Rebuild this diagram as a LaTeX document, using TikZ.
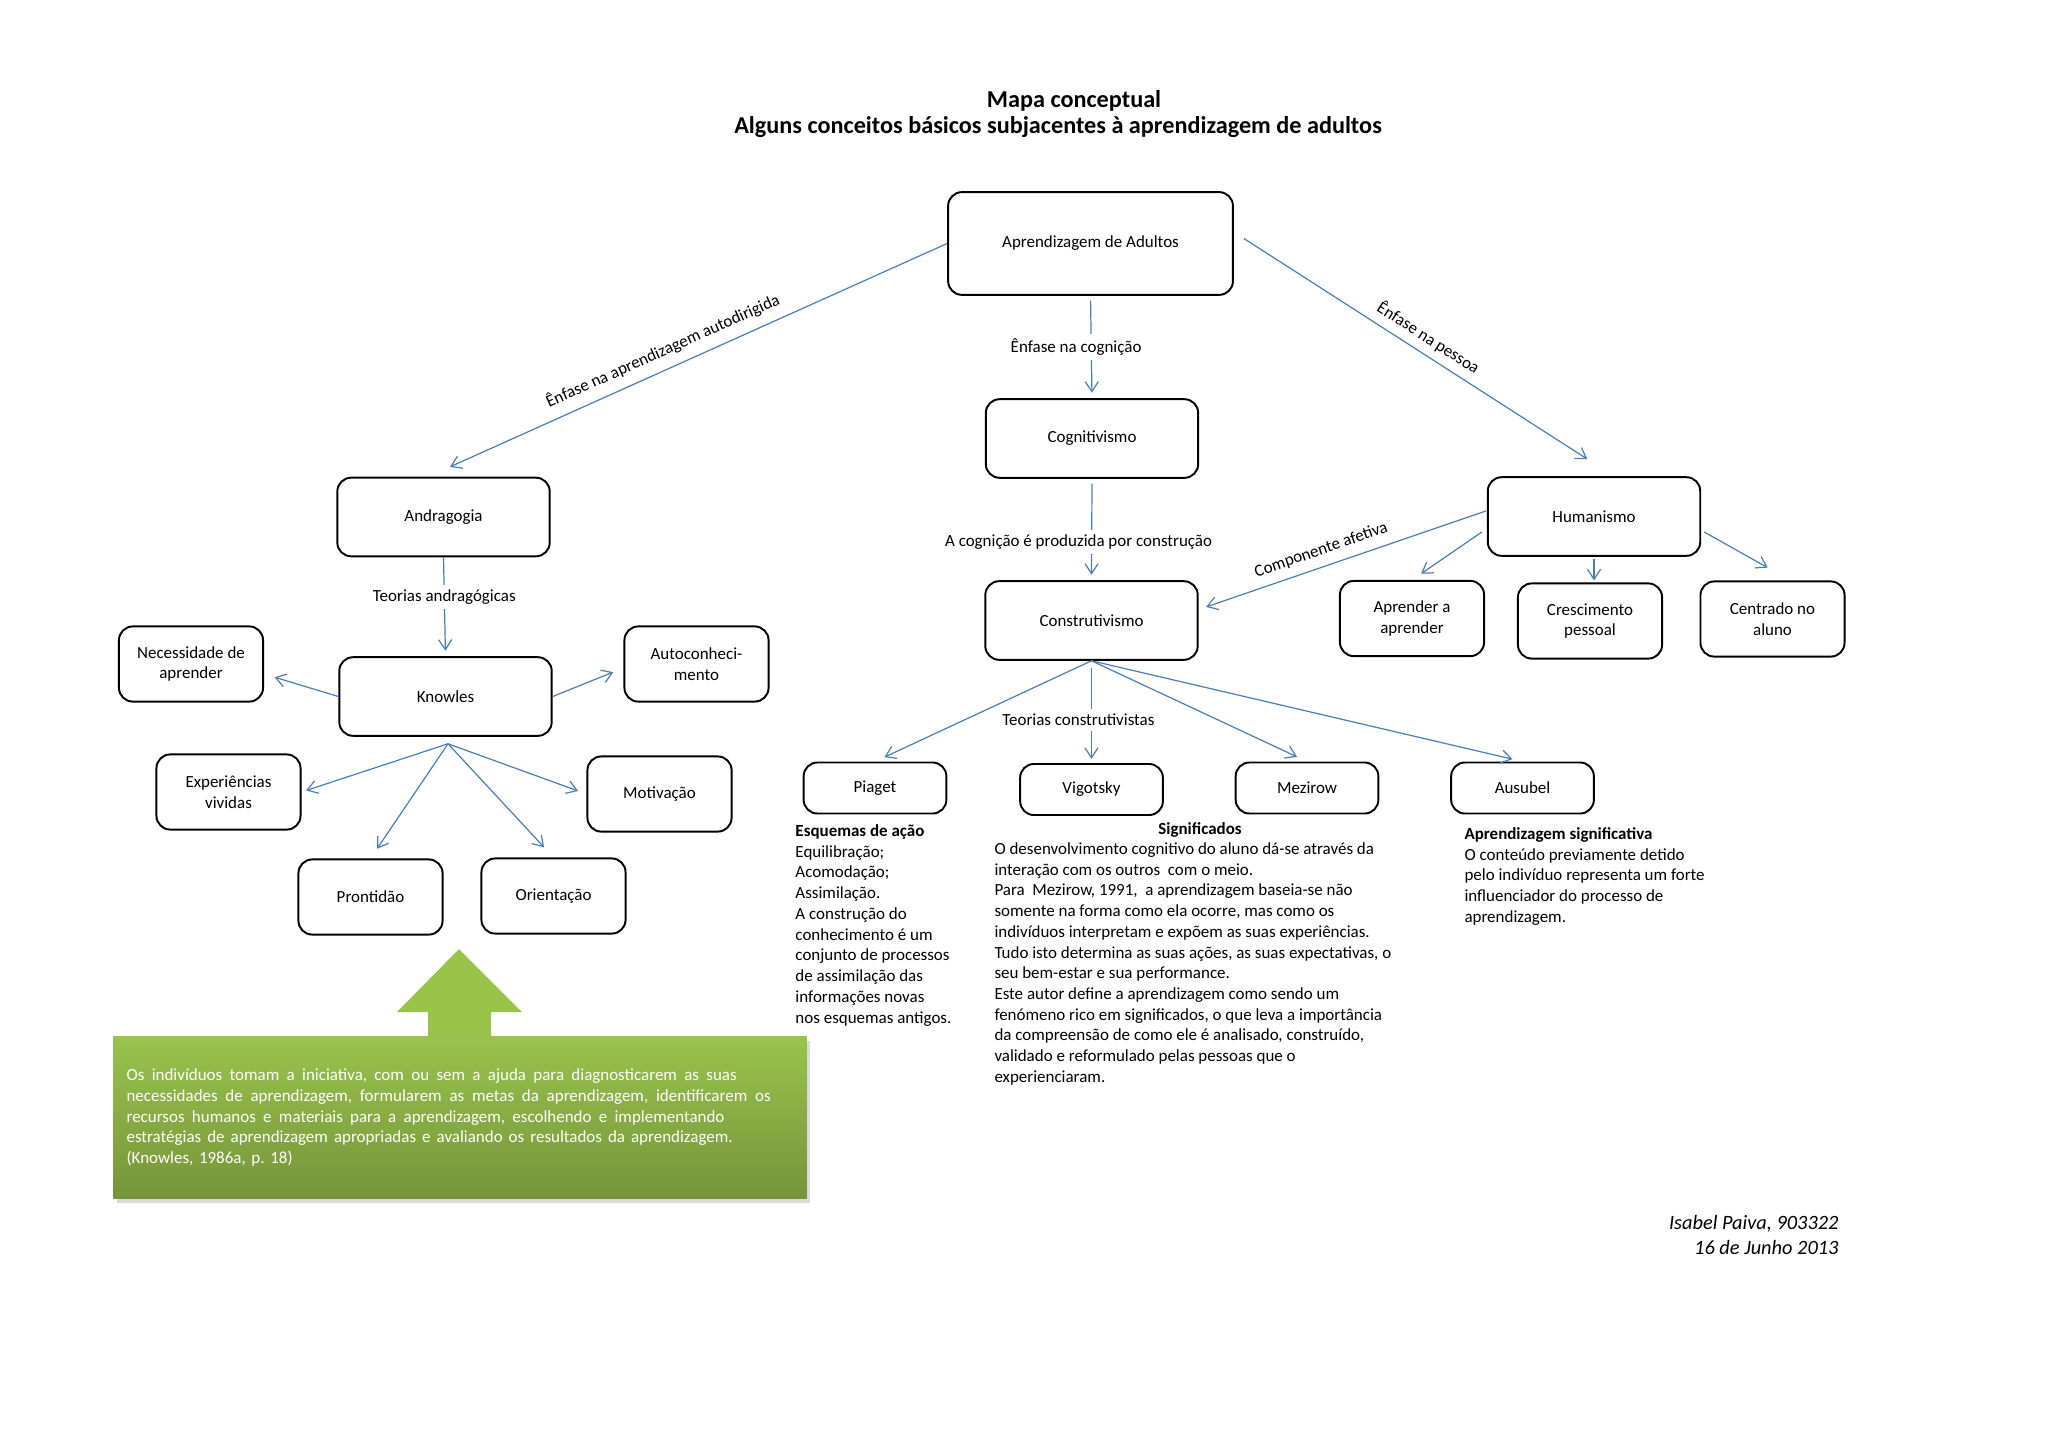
\documentclass[tikz,border=0pt]{standalone}
\usepackage{fontspec}
\setmainfont{Carlito}
\usetikzlibrary{arrows.meta,calc,shadows}
\frenchspacing

\definecolor{azul}{RGB}{74,126,187}
\definecolor{verdeclaro}{RGB}{153,195,78}
\definecolor{verdeescuro}{RGB}{117,149,57}
\definecolor{verdeseta}{RGB}{152,196,74}

\newcommand{\letra}{\fontsize{7pt}{8.56pt}\selectfont}
\newcommand{\linha}[2]{\leavevmode{\spaceskip=0.22em plus 1fil\hbox to #1{#2}}}

\tikzset{
  caixa/.style={draw, line width=0.8pt, rounded corners=2mm, align=center,
    minimum width=30.8mm, minimum height=11.4mm, inner sep=1pt},
  caixapeq/.style={caixa, minimum width=20.9mm, minimum height=10.9mm},
  caixabaixa/.style={caixa, minimum width=20.7mm, minimum height=7.4mm},
  liga/.style={draw=azul, line width=0.5pt, -{Straight Barb[length=1.45mm,width=1.9mm]},
    shorten >=0.8mm, shorten <=0.7mm},
  rotulo/.style={inner sep=2pt},
  texto/.style={align=left, inner sep=0pt, anchor=north west},
  caixaverde/.style={anchor=north west, minimum width=100.5mm, minimum height=23.5mm,
    text width=96.7mm, inner xsep=1.9mm, inner ysep=0pt, align=left, text=white,
    top color=verdeclaro, bottom color=verdeescuro,
    drop shadow={shadow xshift=0.5mm, shadow yshift=-0.6mm, opacity=0.3}}
}

\begin{document}
\begin{tikzpicture}[x=0.14502mm, y=-0.14502mm, every node/.style={font=\letra}]
  \useasboundingbox (0,0) rectangle (2048,1448);

  % titulo
  \node (titulo) [font=\bfseries\fontsize{10pt}{12pt}\selectfont] at (1074,101) {Mapa conceptual};
  \node (subtitulo) [font=\bfseries\fontsize{10pt}{12pt}\selectfont] at (1058,127)
    {Alguns conceitos básicos subjacentes à aprendizagem de adultos};

  % caixas
  \node (adultos) [caixa, minimum width=41.3mm, minimum height=14.9mm] at (1090.5,243.5) {Aprendizagem de Adultos};
  \node (cogn) [caixa] at (1092,438.5) {Cognitivismo};
  \node (constr) [caixa] at (1091.5,620.5) {Construtivismo};
  \node (andrag) [caixa] at (443.5,517) {Andragogia};
  \node (knowles) [caixa] at (445.5,696.5) {Knowles};
  \node (human) [caixa] at (1594,516.5) {Humanismo};
  \node (necess) [caixapeq] at (191,664) {Necessidade de\\aprender};
  \node (auto) [caixapeq] at (696.5,664) {Autoconheci-\\mento};
  \node (exper) [caixapeq] at (228.5,792) {Experiências\\vividas};
  \node (motiv) [caixapeq] at (659.5,794) {Motivação};
  \node (pront) [caixapeq] at (370.5,897) {Prontidão};
  \node (orient) [caixapeq] at (553.5,896) {Orientação};
  \node (aprend) [caixapeq] at (1412,618.5) {Aprender a\\aprender};
  \node (cresc) [caixapeq] at (1590,621) {Crescimento\\pessoal};
  \node (centr) [caixapeq] at (1772.5,619) {Centrado no\\aluno};
  \node (piaget) [caixabaixa] at (875,788) {Piaget};
  \node (vigot) [caixabaixa] at (1091.5,789.5) {Vigotsky};
  \node (mezir) [caixabaixa] at (1307,788) {Mezirow};
  \node (ausub) [caixabaixa] at (1522.5,788) {Ausubel};

  % ligacoes do topo
  \draw[liga] (adultos.south) -- node[rotulo, fill=white, xshift=-2.2mm] {Ênfase na cognição} (cogn.north);
  \draw[liga] (cogn.south) -- node[rotulo, fill=white, pos=0.625, xshift=-1.9mm] {A cognição é produzida por construção} (constr.north);
  \draw[liga, shorten <=0pt, shorten >=3.5mm] (adultos.west) --
    node[rotulo, sloped, above=2pt, pos=0.533] {Ênfase na aprendizagem autodirigida} ($(andrag.north)+(-15.5,0)$);
  \draw[liga, shorten <=0pt, shorten >=4.6mm] ($(adultos.east)+(10,-5)$) --
    node[rotulo, sloped, above=1pt, pos=0.475] {Ênfase na pessoa} ($(human.north)+(20,0)$);

  % andragogia
  \draw[liga, shorten <=0pt] (andrag.south) -- node[rotulo, fill=white, pos=0.4] {Teorias andragógicas} (knowles.north);
  \draw[liga, shorten <=0pt, shorten >=1.6mm] (knowles.west) -- ($(necess.east)+(0,10)$);
  \draw[liga, shorten <=0pt, shorten >=1.6mm] (knowles.east) -- ($(auto.west)+(0,4)$);
  \coordinate (kfan) at ($(knowles.south)+(2.5,7)$);
  \draw[liga, shorten <=0pt, shorten >=0.7mm] (kfan) -- (exper.east);
  \draw[liga, shorten <=0pt, shorten >=1.7mm] (kfan) -- (pront.north);
  \draw[liga, shorten <=0pt, shorten >=2mm] (kfan) -- (orient.north);
  \draw[liga, shorten <=0pt, shorten >=1.3mm] (kfan) -- (motiv.west);

  % construtivismo
  \draw[liga, shorten <=0pt, shorten >=1.5mm] (constr.south) -- (piaget.north);
  \draw[liga, shorten <=1mm, shorten >=0.6mm] (constr.south) -- node[rotulo, fill=white, pos=0.58, xshift=-1.9mm] {Teorias construtivistas} (vigot.north);
  \draw[liga, shorten <=0pt, shorten >=1.6mm] (constr.south) -- (mezir.north);
  \draw[liga, shorten <=0pt, shorten >=1.5mm] (constr.south) -- (ausub.north);

  % humanismo
  \draw[liga, shorten <=0pt, shorten >=1.15mm] ($(human.west)+(-1,-5.5)$) --
    node[rotulo, sloped, above=1.5pt, pos=0.555] {Componente afetiva} ($(constr.east)+(0,-11)$);
  \draw[liga, shorten <=0pt, shorten >=1.6mm] ($(human.west)+(-5,15.5)$) -- (aprend.north);
  \draw[liga, shorten <=0.3mm, shorten >=0.3mm] (human.south) -- (human.south |- cresc.north);
  \draw[liga, shorten <=0pt, shorten >=3.8mm] ($(human.east)+(3,15.5)$) -- ($(centr.north)+(18,0)$);

  % textos
  \node (esquemas) [texto] at (795,824) {\textbf{Esquemas de ação}\\Equilibração;\\Acomodação;\\Assimilação.\\A construção do\\conhecimento é um\\conjunto de processos\\de assimilação das\\informações novas\\nos esquemas antigos.};
  \node (signif) [font=\letra\bfseries] at (1200,830) {Significados};
  \node (mezirtexto) [texto] at (994,842) {O desenvolvimento cognitivo do aluno dá-se através da\\
    interação com os outros\ \ com o meio.\\
    Para\ \ Mezirow, 1991,\ \ a aprendizagem baseia-se não\\
    somente na forma como ela ocorre, mas como os\\
    indivíduos interpretam e expõem as suas experiências.\\
    Tudo isto determina as suas ações, as suas expectativas, o\\
    seu bem-estar e sua performance.\\
    Este autor define a aprendizagem como sendo um\\
    fenómeno rico em significados, o que leva a importância\\
    da compreensão de como ele é analisado, construído,\\
    validado e reformulado pelas pessoas que o\\
    experienciaram.};
  \node (ausubtexto) [texto] at (1464,827) {\textbf{Aprendizagem significativa}\\O conteúdo previamente detido\\pelo indivíduo representa um forte\\influenciador do processo de\\aprendizagem.};

  % citacao de Knowles
  \fill[verdeseta] (459,949) -- (522,1012) -- (491,1012) -- (491,1037) -- (428,1037) -- (428,1012) -- (397,1012) -- cycle;
  \node (citacao) [caixaverde] at (113,1036) {%
    \linha{88.5mm}{Os indivíduos tomam a iniciativa, com ou sem a ajuda para diagnosticarem as suas}\\
    \linha{93.4mm}{necessidades de aprendizagem, formularem as metas da aprendizagem, identificarem os}\\
    \linha{86.7mm}{recursos humanos e materiais para a aprendizagem, escolhendo e implementando}\\
    \linha{87.9mm}{estratégias de aprendizagem apropriadas e avaliando os resultados da aprendizagem.}\\
    (Knowles, 1986a, p. 18)};

  % autora
  \node (autora) [anchor=east, align=right, font=\itshape\fontsize{8.4pt}{10.2pt}\selectfont] at (1847,1235)
    {Isabel Paiva, 903322\\16 de Junho 2013};
\end{tikzpicture}
\end{document}
